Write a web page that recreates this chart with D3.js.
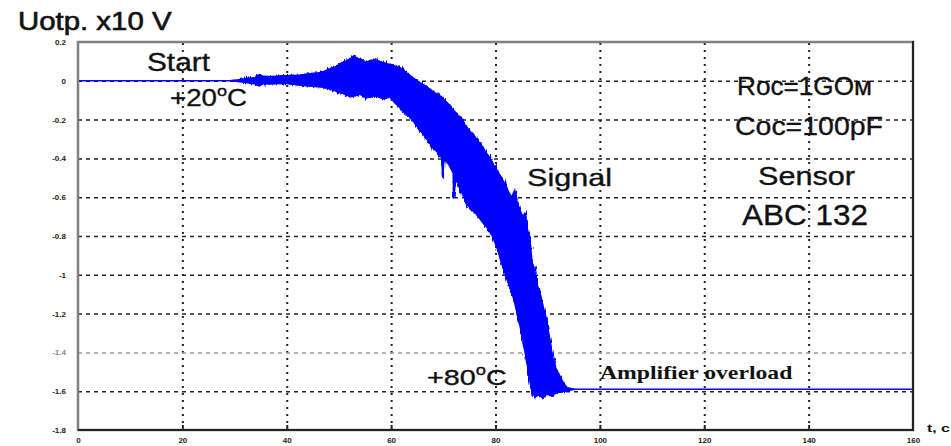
<!DOCTYPE html>
<html>
<head>
<meta charset="utf-8">
<script src="https://cdn.jsdelivr.net/npm/d3@7"></script>
<style>
  html, body { margin: 0; padding: 0; background: #fff; }
  svg { display: block; }
</style>
</head>
<body>
<svg id="chart" width="951" height="446"></svg>
<script>
// Axis ticks: time (s) and output voltage (x10 V)
const xTicks = [0, 20, 40, 60, 80, 100, 120, 140, 160];
const yTicks = [0.2, 0, -0.2, -0.4, -0.6, -0.8, -1, -1.2, -1.4, -1.6, -1.8];
const yTickLabels = ["0.2", "0", "-0.2", "-0.4", "-0.6", "-0.8", "-1", "-1.2", "-1.4", "-1.6", "-1.8"];

// Upper edge of the recorded signal band
const upperT = [0, 29.1, 30.7, 32.6, 33.9, 34.7, 35.4, 36.8, 39.7, 42.5, 44.5, 46.4, 47.5, 48.3, 49.4, 50.2,
  51.2, 52.1, 52.9, 53.5, 54.4, 55.2, 56.0, 56.9, 57.9, 59.2, 60.4, 61.7, 62.9, 64.2, 65.5, 66.5, 67.5,
  68.6, 69.6, 70.7, 71.7, 72.6, 73.8, 74.7, 75.5, 76.5, 77.4, 78.2, 79.0, 79.9, 80.9, 81.8, 82.4, 83.2,
  83.7, 84.1, 84.7, 85.3, 85.7, 86.0, 86.6, 87.0, 87.4, 88.0, 88.5, 89.1, 89.7, 90.1, 90.6, 91.0, 91.6,
  92.4, 93.1, 93.7, 95.2, 160];
const upperV = [0, 0, 0.005, 0.013, 0.015, 0.031, 0.023, 0.021, 0.026, 0.028, 0.036, 0.041, 0.052, 0.062, 0.072, 0.088,
  0.098, 0.113, 0.129, 0.113, 0.108, 0.093, 0.103, 0.108, 0.098, 0.088, 0.077, 0.067, 0.041, 0.015, -0.010, -0.026, -0.046,
  -0.067, -0.082, -0.113, -0.144, -0.170, -0.216, -0.247, -0.273, -0.304, -0.340, -0.371, -0.402, -0.448, -0.490, -0.531, -0.567, -0.608,
  -0.567, -0.619, -0.670, -0.711, -0.680, -0.753, -0.825, -0.938, -0.969, -1.057, -1.093, -1.160, -1.227, -1.289, -1.371, -1.433, -1.485,
  -1.526, -1.562, -1.582, -1.59, -1.59];

// Lower edge of the recorded signal band
const lowerT = [0, 29.1, 30.7, 32.6, 33.9, 34.7, 35.4, 36.8, 39.7, 42.5, 44.5, 46.4, 47.5, 48.3, 49.4, 50.2,
  51.2, 52.1, 53.1, 54.0, 55.2, 56.3, 57.5, 58.6, 59.8, 60.7, 61.7, 63.0, 64.2, 65.1, 66.1, 67.1, 68.0,
  69.0, 69.7, 69.9, 70.1, 71.1, 71.9, 72.0, 72.4, 73.2, 74.3, 75.1, 76.3, 77.6, 78.6, 79.5, 80.5, 81.4,
  82.2, 82.8, 83.5, 84.1, 84.7, 85.3, 85.8, 86.2, 86.6, 87.0, 87.6, 88.3, 89.1, 89.9, 90.8, 91.6, 92.7,
  93.7, 95.2, 160];
const lowerV = [0, 0, -0.003, -0.010, -0.015, -0.026, -0.015, -0.015, -0.013, -0.021, -0.026, -0.031, -0.036, -0.041, -0.052, -0.062,
  -0.067, -0.082, -0.077, -0.067, -0.088, -0.077, -0.082, -0.093, -0.082, -0.113, -0.139, -0.170, -0.206, -0.237, -0.273, -0.309, -0.345,
  -0.371, -0.397, -0.500, -0.402, -0.433, -0.474, -0.603, -0.495, -0.557, -0.619, -0.655, -0.686, -0.732, -0.763, -0.804, -0.876, -0.959,
  -1.021, -1.067, -1.124, -1.191, -1.263, -1.340, -1.418, -1.479, -1.546, -1.608, -1.629, -1.619, -1.634, -1.613, -1.624, -1.608, -1.603,
  -1.598, -1.59, -1.59];

// Time span over which the band is noisy
const noisySpan = [31, 94];

const svg = d3.select("#chart");
const plot = { left: 78, right: 913, top: 42, bottom: 430 };

const x = d3.scaleLinear().domain([0, 160]).range([plot.left, plot.right]);
const y = d3.scaleLinear().domain([0.2, -1.8]).range([plot.top, plot.bottom]);

// Ragged edge for the noisy part of the band
const defs = svg.append("defs");
const rough = defs.append("filter").attr("id", "rough")
  .attr("x", "-5%").attr("y", "-5%").attr("width", "110%").attr("height", "110%");
rough.append("feTurbulence").attr("type", "fractalNoise")
  .attr("baseFrequency", "0.9 0.08").attr("numOctaves", 2).attr("seed", 7).attr("result", "n");
rough.append("feDisplacementMap").attr("in", "SourceGraphic").attr("in2", "n")
  .attr("scale", 7).attr("xChannelSelector", "R").attr("yChannelSelector", "G");
defs.append("clipPath").attr("id", "noisyClip")
  .append("rect")
  .attr("x", x(noisySpan[0])).attr("y", plot.top)
  .attr("width", x(noisySpan[1]) - x(noisySpan[0])).attr("height", plot.bottom - plot.top);

// Vertical dotted grid
const innerX = xTicks.filter(t => t > 0 && t < 160);
const vGrid = svg.append("g")
  .attr("transform", `translate(0,${plot.bottom})`)
  .call(d3.axisBottom(x).tickValues(innerX).tickSize(-(plot.bottom - plot.top)).tickFormat(""));
vGrid.select(".domain").remove();
vGrid.selectAll(".tick line")
  .attr("stroke", "#222").attr("stroke-width", 2).attr("stroke-dasharray", "2,5");

// Horizontal dashed grid
const innerY = yTicks.filter(v => v < 0.2 && v > -1.8);
const hGrid = svg.append("g")
  .attr("transform", `translate(${plot.left},0)`)
  .call(d3.axisLeft(y).tickValues(innerY).tickSize(-(plot.right - plot.left)).tickFormat(""));
hGrid.select(".domain").remove();
hGrid.selectAll(".tick line")
  .attr("stroke", d => Math.abs(d + 1.4) < 1e-6 ? "#999" : "#222")
  .attr("stroke-width", 1.5).attr("stroke-dasharray", "4,4");

// Short solid ticks along the bottom edge
const bTicks = svg.append("g")
  .attr("transform", `translate(0,${plot.bottom})`)
  .call(d3.axisBottom(x).tickValues(innerX).tickSize(-5).tickFormat(""));
bTicks.select(".domain").remove();
bTicks.selectAll(".tick line").attr("stroke", "#222").attr("stroke-width", 2);

// Signal band: upper edge forward, lower edge back
const upperPts = upperT.map((t, i) => [x(t), y(upperV[i])]);
const lowerPts = lowerT.map((t, i) => [x(t), y(lowerV[i])]).reverse();
const bandPath = d3.line()(upperPts.concat(lowerPts)) + "Z";
svg.append("path")
  .attr("d", bandPath)
  .attr("fill", "#0000ff")
  .attr("stroke", "#0000ff")
  .attr("stroke-width", 1.6)
  .attr("stroke-linejoin", "miter");
svg.append("g").attr("clip-path", "url(#noisyClip)")
  .append("path")
  .attr("d", bandPath)
  .attr("fill", "#0000ff")
  .attr("stroke", "#0000ff")
  .attr("stroke-width", 1.6)
  .attr("filter", "url(#rough)");

// Frame
svg.append("rect")
  .attr("x", plot.left).attr("y", plot.top)
  .attr("width", plot.right - plot.left).attr("height", plot.bottom - plot.top)
  .attr("fill", "none").attr("stroke", "#808080").attr("stroke-width", 2.5);
svg.append("line")
  .attr("x1", plot.left).attr("x2", plot.right + 1).attr("y1", plot.bottom).attr("y2", plot.bottom)
  .attr("stroke", "#222").attr("stroke-width", 2);
svg.append("line")
  .attr("x1", plot.right).attr("x2", plot.right).attr("y1", plot.top - 1).attr("y2", plot.bottom)
  .attr("stroke", "#222").attr("stroke-width", 2);

// Tick labels
const tickFont = "'Liberation Sans', Arial, sans-serif";
const yLab = svg.append("g")
  .attr("transform", `translate(${plot.left},0)`)
  .call(d3.axisLeft(y).tickValues(yTicks).tickSize(0).tickPadding(12)
    .tickFormat((d, i) => yTickLabels[i]));
yLab.select(".domain").remove();
yLab.selectAll("text")
  .attr("font-family", tickFont).attr("font-size", 8).attr("font-weight", "bold")
  .attr("fill", d => Math.abs(d + 1.4) < 1e-6 ? "#888" : "#222");

const xLab = svg.append("g")
  .attr("transform", `translate(0,${plot.bottom})`)
  .call(d3.axisBottom(x).tickValues(xTicks).tickSize(0).tickPadding(7).tickFormat(d3.format("d")));
xLab.select(".domain").remove();
xLab.selectAll("text")
  .attr("font-family", tickFont).attr("font-size", 8).attr("font-weight", "bold").attr("fill", "#222");

// Text helper: stretches a label horizontally to a given width
function label(xPos, baseline, width, size, parts, opts = {}) {
  const g = svg.append("g");
  const t = g.append("text")
    .attr("x", 0).attr("y", 0)
    .attr("font-family", opts.family || "'Liberation Sans', Arial, sans-serif")
    .attr("font-size", size)
    .attr("font-weight", opts.weight || "normal")
    .attr("fill", opts.fill || "#111")
    .attr("stroke", opts.fill || "#111")
    .attr("stroke-width", opts.stroke == null ? 0.35 : opts.stroke);
  let shift = 0;
  parts.forEach(p => {
    const ts = t.append("tspan").text(p.text);
    if (p.sup) {
      ts.attr("font-size", p.sup).attr("dy", -p.rise);
      shift = p.rise;
    } else if (shift) {
      ts.attr("dy", shift);
      shift = 0;
    }
  });
  const w = t.node().getBBox().width;
  g.attr("transform", `translate(${xPos},${baseline}) scale(${width / w},1)`);
  return g;
}

label(18, 30, 154, 25, [{ text: "Uotp. x10 V" }], { stroke: 0.6 });
label(147, 71, 63, 25, [{ text: "Start" }]);
label(170, 105.5, 77, 23, [{ text: "+20" }, { text: "o", sup: 15, rise: 10 }, { text: "C" }]);
label(737, 95, 135, 25, [{ text: "Roc=1GOм" }]);
label(735, 135, 148, 26, [{ text: "Coc=100pF" }]);
label(527, 186, 85, 24, [{ text: "Signal" }]);
label(758, 185, 97, 25, [{ text: "Sensor" }]);
label(742, 225, 126, 30, [{ text: "ABC 132" }]);
label(427, 385, 80, 22, [{ text: "+80" }, { text: "o", sup: 14, rise: 10 }, { text: "C" }]);
label(600, 379, 193, 19, [{ text: "Amplifier overload" }],
  { family: "'Liberation Serif', 'Times New Roman', serif", weight: "bold", stroke: 0 });
label(927, 432, 23, 11, [{ text: "t, c" }], { weight: "bold", stroke: 0 });
</script>
</body>
</html>
